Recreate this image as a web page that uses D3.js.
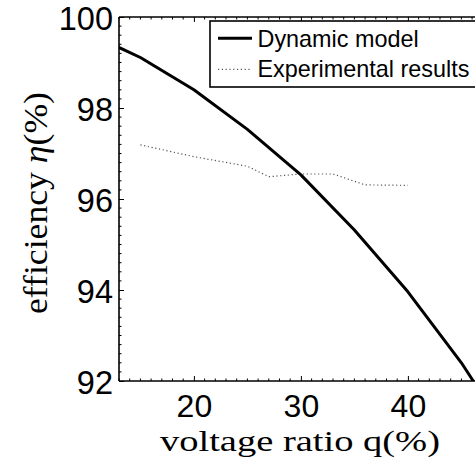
<!DOCTYPE html>
<html>
<head>
<meta charset="utf-8">
<script src="https://cdn.jsdelivr.net/npm/d3@7"></script>
<style>
  html, body { margin: 0; padding: 0; background: #fff; }
  svg { display: block; }
</style>
</head>
<body>
<svg id="chart" width="475" height="464"></svg>
<script>
// Efficiency vs. voltage ratio: dynamic model against measured results
const modelQ   = [10, 15, 20, 25, 30, 35, 40, 45, 50];
const modelEta = [99.66, 99.11, 98.40, 97.53, 96.53, 95.32, 93.96, 92.40, 90.60];

const expQ   = [15, 20, 25, 27, 30, 33, 36, 40];
const expEta = [97.19, 96.93, 96.72, 96.49, 96.55, 96.55, 96.31, 96.30];

const xTicks = [20, 30, 40];
const yTicks = [92, 94, 96, 98, 100];
const seriesNames = ["Dynamic model", "Experimental results"];

(function draw() {
  const svg = d3.select("#chart");
  const plotLeft = 119, plotTop = 17, plotBottom = 381;
  const x = d3.scaleLinear().domain([13, 47]).range([plotLeft, plotLeft + 34 * 10.7]);
  const y = d3.scaleLinear().domain([92, 100]).range([plotBottom, plotTop]);
  const plotRight = x(47);

  svg.append("defs").append("clipPath").attr("id", "plotClip")
    .append("rect")
    .attr("x", plotLeft).attr("y", plotTop)
    .attr("width", plotRight - plotLeft).attr("height", plotBottom - plotTop);

  const tickFont = "'Liberation Sans', Arial, Helvetica, sans-serif";
  const serif = "'Liberation Serif', 'Times New Roman', serif";

  // minor ticks every 1 (x) and 0.2 (y), majors at the labelled values
  const xMinor = d3.range(13, 48, 1).filter(v => !xTicks.includes(v));
  const yMinor = d3.range(92, 100.001, 0.2).map(v => +v.toFixed(1)).filter(v => !yTicks.includes(v));

  const bottomAxis = d3.axisBottom(x).tickValues(xTicks).tickSize(-5).tickFormat(d3.format("d"));
  const gx = svg.append("g").attr("transform", `translate(0,${plotBottom})`).call(bottomAxis);
  gx.select(".domain").remove();
  gx.selectAll(".tick line").attr("stroke", "#000").attr("stroke-width", 1);
  gx.selectAll(".tick text")
    .attr("y", 35.5).attr("dy", 0)
    .style("font-family", tickFont).style("font-size", "32px").attr("fill", "#000");

  const topAxis = d3.axisTop(x).tickValues(xTicks).tickSize(-5).tickFormat("");
  const gt = svg.append("g").attr("transform", `translate(0,${plotTop})`).call(topAxis);
  gt.select(".domain").remove();
  gt.selectAll(".tick line").attr("stroke", "#000").attr("stroke-width", 1);

  const leftAxis = d3.axisLeft(y).tickValues(yTicks).tickSize(-5).tickFormat(d3.format("d"));
  const gy = svg.append("g").attr("transform", `translate(${plotLeft},0)`).call(leftAxis);
  gy.select(".domain").remove();
  gy.selectAll(".tick line").attr("stroke", "#000").attr("stroke-width", 1);
  gy.selectAll(".tick text")
    .attr("x", -6).attr("dy", "0.39em")
    .style("font-family", tickFont).style("font-size", "32.5px").attr("fill", "#000");

  svg.append("g").selectAll("line").data(xMinor).join("line")
    .attr("x1", d => x(d)).attr("x2", d => x(d))
    .attr("y1", plotBottom).attr("y2", plotBottom - 2.5)
    .attr("stroke", "#000").attr("stroke-width", 1);
  svg.append("g").selectAll("line").data(xMinor).join("line")
    .attr("x1", d => x(d)).attr("x2", d => x(d))
    .attr("y1", plotTop).attr("y2", plotTop + 2.5)
    .attr("stroke", "#000").attr("stroke-width", 1);
  svg.append("g").selectAll("line").data(yMinor).join("line")
    .attr("x1", plotLeft).attr("x2", plotLeft + 2.5)
    .attr("y1", d => y(d)).attr("y2", d => y(d))
    .attr("stroke", "#000").attr("stroke-width", 1);

  // frame
  svg.append("line").attr("x1", plotLeft).attr("x2", plotLeft).attr("y1", plotTop).attr("y2", plotBottom)
    .attr("stroke", "#000").attr("stroke-width", 1.6);
  svg.append("line").attr("x1", plotLeft).attr("x2", plotRight).attr("y1", plotBottom).attr("y2", plotBottom)
    .attr("stroke", "#000").attr("stroke-width", 1.6);
  svg.append("line").attr("x1", plotLeft).attr("x2", plotRight).attr("y1", plotTop).attr("y2", plotTop)
    .attr("stroke", "#000").attr("stroke-width", 1.6);

  // data lines
  const plot = svg.append("g").attr("clip-path", "url(#plotClip)");
  const line = d3.line().x(d => x(d[0])).y(d => y(d[1]));

  plot.append("path")
    .datum(d3.zip(expQ, expEta))
    .attr("d", line)
    .attr("fill", "none")
    .attr("stroke", "#555")
    .attr("stroke-width", 1.2)
    .attr("stroke-dasharray", "1.2,2.6");

  plot.append("path")
    .datum(d3.zip(modelQ, modelEta))
    .attr("d", line)
    .attr("fill", "none")
    .attr("stroke", "#000")
    .attr("stroke-width", 3)
    .attr("stroke-linejoin", "round");

  // legend
  const lg = svg.append("g");
  lg.append("rect")
    .attr("x", 210).attr("y", 21).attr("width", 280).attr("height", 66)
    .attr("fill", "#fff").attr("stroke", "#000").attr("stroke-width", 1.6);
  lg.append("line").attr("x1", 218).attr("x2", 252).attr("y1", 38.3).attr("y2", 38.3)
    .attr("stroke", "#000").attr("stroke-width", 3);
  lg.append("line").attr("x1", 218).attr("x2", 252).attr("y1", 69.3).attr("y2", 69.3)
    .attr("stroke", "#555").attr("stroke-width", 1.2).attr("stroke-dasharray", "1.2,2.6");
  lg.selectAll("text").data(seriesNames).join("text")
    .attr("x", 257.5)
    .attr("y", (d, i) => i === 0 ? 46.7 : 77.3)
    .style("font-family", tickFont).style("font-size", "23.4px")
    .attr("fill", "#000")
    .text(d => d);

  // axis titles
  svg.append("text")
    .attr("x", 300).attr("y", 450.5)
    .attr("text-anchor", "middle")
    .attr("textLength", 280).attr("lengthAdjust", "spacingAndGlyphs")
    .style("font-family", serif).style("font-size", "30px")
    .attr("fill", "#000")
    .text("voltage ratio q(%)");

  const yt = svg.append("text")
    .attr("transform", "translate(47,203) rotate(-90)")
    .attr("text-anchor", "middle")
    .attr("textLength", 222).attr("lengthAdjust", "spacingAndGlyphs")
    .style("font-family", serif).style("font-size", "33px")
    .attr("fill", "#000");
  yt.append("tspan").text("efficiency ");
  yt.append("tspan").style("font-style", "italic").text("η");
  yt.append("tspan").text("(%)");
})();
</script>
</body>
</html>
